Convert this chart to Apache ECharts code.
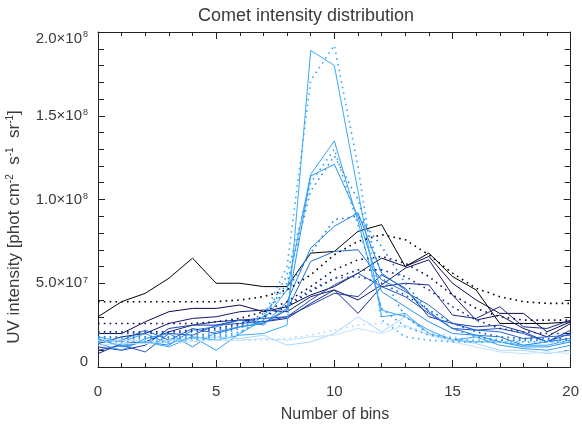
<!DOCTYPE html>
<html><head><meta charset="utf-8">
<script src="https://cdn.jsdelivr.net/npm/echarts@6/dist/echarts.min.js"></script>
<style>html,body{margin:0;padding:0;background:#fff}#c{width:582px;height:427px}</style>
</head><body><div id="c"></div>
<script>
// x positions (bins)
const xBins = [0,1,2,3,4,5,6,7,8,9,10,11,12,13,14,15,16,17,18,19,20];
// y values in units of 1e7 phot cm^-2 s^-1 sr^-1
const solid1  = [3.0,3.9,4.4,5.3,6.5,5.0,5.0,4.8,4.8,6.8,6.9,8.1,8.5,6.0,6.8,5.4,4.6,2.6,2.6,2.6,2.7];
const solid2  = [2.0,2.0,2.7,3.3,3.5,3.5,3.7,3.3,3.6,4.3,4.8,5.6,6.5,6.0,6.6,5.0,4.0,3.2,3.2,2.1,2.7];
const solid3  = [1.4,1.8,2.0,2.6,2.9,3.0,3.3,3.4,3.3,4.2,4.6,4.0,4.9,5.9,6.4,4.3,2.8,3.1,2.3,1.8,2.6];
const solid4  = [0.8,1.4,1.5,2.1,2.5,2.7,2.8,2.7,2.9,3.8,4.6,3.2,4.8,5.0,4.9,3.1,2.9,3.6,2.4,2.3,2.8];
const solid5  = [1.2,1.0,1.3,2.3,2.5,2.5,2.8,2.9,3.0,3.7,4.4,4.2,5.5,4.7,3.0,2.6,2.4,2.5,2.1,1.5,2.2];
const solid6  = [1.0,1.3,0.9,2.0,1.9,2.5,2.6,2.7,3.0,4.0,4.9,5.6,4.8,4.2,3.2,2.3,2.2,2.3,2.0,1.5,2.0];
const solid7  = [1.5,1.6,2.2,1.6,2.3,2.0,2.4,2.6,3.4,6.3,6.9,7.0,5.2,4.5,3.7,2.6,2.2,2.1,1.7,1.8,1.9];
const solid8  = [1.7,1.2,1.5,1.3,2.2,2.4,2.8,2.5,3.9,7.1,8.4,9.2,5.6,4.6,3.3,2.3,1.9,1.8,1.3,1.5,1.7];
const solid9  = [1.4,1.0,1.7,2.0,1.2,2.1,2.4,2.6,3.5,11.4,12.1,9.0,4.5,3.6,2.7,2.0,1.9,1.5,1.2,1.2,1.5];
const solid10 = [1.8,1.5,2.0,1.4,1.8,1.0,2.0,2.8,4.6,11.5,13.5,8.7,3.4,3.0,2.2,1.6,1.8,1.3,1.1,1.0,1.3];
const solid11 = [1.6,1.3,1.5,1.2,1.8,1.6,1.9,2.0,2.5,18.9,18.0,10.5,3.0,3.2,2.0,1.6,1.5,1.5,1.3,1.3,1.6];
const solid12 = [1.5,1.6,1.5,1.6,1.7,1.8,1.7,1.9,1.3,1.5,2.0,3.0,2.1,3.0,2.0,1.6,1.4,1.0,1.0,0.8,1.0];
const solid13 = [1.3,1.4,1.4,1.5,1.5,1.6,1.6,1.7,1.6,1.8,1.9,2.3,2.0,2.5,1.9,1.5,1.2,0.9,0.8,0.9,0.8];
const dotted1 = [3.9,3.9,3.9,3.9,3.9,3.9,4.0,4.2,4.6,5.5,6.7,7.5,7.9,7.6,6.7,5.6,4.7,4.2,3.9,3.8,3.8];
const dotted2 = [2.6,2.6,2.6,2.6,2.6,2.7,2.9,3.3,3.9,4.8,5.8,6.4,6.6,6.2,5.4,4.3,3.5,3.0,2.8,2.8,2.8];
const dotted3 = [2.1,2.1,2.1,2.1,2.2,2.3,2.6,3.0,3.6,4.5,5.3,5.8,5.8,5.4,4.6,3.6,2.8,2.3,2.1,2.0,2.0];
const dotted4 = [2.0,2.0,2.0,2.0,2.1,2.2,2.5,3.0,3.7,4.6,5.3,5.4,5.0,4.3,3.4,2.6,2.1,1.8,1.7,1.7,1.7];
const dotted5 = [1.8,1.8,1.8,1.8,1.9,2.0,2.4,3.2,4.6,6.8,8.8,9.0,7.2,5.0,3.3,2.3,1.8,1.6,1.6,1.6,1.6];
const dotted6 = [1.7,1.7,1.7,1.7,1.8,1.9,2.3,3.0,5.0,10.5,12.6,10.0,5.5,3.0,2.0,1.7,1.6,1.6,1.6,1.6,1.6];
const dotted7 = [1.6,1.6,1.6,1.6,1.7,1.8,2.1,2.8,5.5,11.0,13.0,8.5,3.5,2.4,1.9,1.7,1.6,1.6,1.6,1.6,1.6];
const dotted8 = [1.5,1.5,1.5,1.5,1.6,1.7,2.0,3.0,6.0,17.1,19.2,12.0,2.8,1.8,1.6,1.5,1.5,1.5,1.5,1.5,1.5];
const dotted9 = [1.6,1.6,1.6,1.6,1.6,1.6,1.6,1.6,1.7,1.9,2.2,2.5,2.6,2.4,2.1,1.8,1.6,1.5,1.5,1.5,1.5];
// tick labels
const xTickLabels = ['0','5','10','15','20'];
const yTickMantissa = ['0','5.0','1.0','1.5','2.0'];
const yTickExponent = ['','7','8','8','8'];

const solidSets = [
  [solid1,'#000000'],[solid2,'#0c0c48'],[solid3,'#15196e'],[solid4,'#1a2a8c'],
  [solid5,'#1c3ca6'],[solid6,'#1f52bf'],[solid7,'#2068d4'],[solid8,'#2280e4'],
  [solid9,'#2a94f0'],[solid10,'#34a4f8'],[solid11,'#3aaaff'],[solid12,'#a8d6fc'],[solid13,'#c4e4ff']
];
const dottedSets = [
  [dotted1,'#000000'],[dotted2,'#0c0c48'],[dotted3,'#1a2a8c'],[dotted4,'#1f52bf'],
  [dotted5,'#2280e4'],[dotted6,'#2a94f0'],[dotted7,'#34a4f8'],[dotted8,'#3aaaff'],[dotted9,'#a8d6fc']
];
const series = [];
solidSets.forEach(([arr,c]) => series.push({
  type:'line', data: xBins.map((x,i)=>[x,arr[i]]), showSymbol:false, silent:true,
  lineStyle:{color:c,width:1}, z:2
}));
dottedSets.forEach(([arr,c]) => series.push({
  type:'line', data: xBins.map((x,i)=>[x,arr[i]]), showSymbol:false, silent:true,
  lineStyle:{color:c,width:1.6,type:[1.6,4.2]}, z:2
}));

const axisCol = '#222';
const txtCol = '#3a3a3a';
const font = 'Liberation Sans';
function xAx(pos, labels){
  return {type:'value', min:0, max:20, interval:5, position:pos,
    axisLine:{show:true,onZero:false,lineStyle:{color:axisCol,width:1}},
    axisTick:{show:true,inside:true,length:7,lineStyle:{color:axisCol}},
    minorTick:{show:true,splitNumber:5,length:4,lineStyle:{color:axisCol}},
    splitLine:{show:false}, minorSplitLine:{show:false},
    axisLabel:{show:labels,margin:17,fontSize:15,color:txtCol,fontFamily:font,
      formatter:(v)=>xTickLabels[Math.round(v/5)]}
  };
}
function yAx(pos, labels){
  return {type:'value', min:0, max:20, interval:5, position:pos,
    axisLine:{show:true,onZero:false,lineStyle:{color:axisCol,width:1}},
    axisTick:{show:true,inside:true,length:7,lineStyle:{color:axisCol}},
    minorTick:{show:true,splitNumber:5,length:6,lineStyle:{color:axisCol}},
    splitLine:{show:false}, minorSplitLine:{show:false},
    axisLabel:{show:labels,margin:10,color:txtCol,fontFamily:font,
      formatter:(v)=>{
        const i = Math.round(v/5);
        if (i===0) return '{z|0}';
        if (i===4) return '{mt|'+yTickMantissa[i]+'×10}{et|'+yTickExponent[i]+'}';
        return '{m|'+yTickMantissa[i]+'×10}{e|'+yTickExponent[i]+'}';
      },
      rich:{
        z:{fontSize:15,color:txtCol,fontFamily:font,padding:[0,0,10,0]},
        m:{fontSize:15,color:txtCol,fontFamily:font,verticalAlign:'bottom'},
        e:{fontSize:9,color:txtCol,fontFamily:font,verticalAlign:'top',padding:[0,0,0,1]},
        mt:{fontSize:15,color:txtCol,fontFamily:font,verticalAlign:'bottom',padding:[14,0,0,0]},
        et:{fontSize:9,color:txtCol,fontFamily:font,verticalAlign:'top',padding:[13,0,0,1]}
      }
    }
  };
}

const chart = echarts.init(document.getElementById('c'), null, {renderer:'canvas'});
chart.setOption({
  animation:false,
  backgroundColor:'#fff',
  title:{text:'Comet intensity distribution', left:301, top:2, textAlign:'center',
    textStyle:{fontSize:18,fontWeight:'normal',color:txtCol,fontFamily:font}},
  grid:{left:98,right:10,top:32,bottom:60,containLabel:false},
  xAxis:[xAx('bottom',true), xAx('top',false)],
  yAxis:[yAx('left',true), yAx('right',false)],
  graphic:[
    {type:'text', x:14, y:227, rotation:Math.PI/2,
      style:{text:'UV intensity [phot cm{s|-2}  s{s|-1}  sr{s|-1}]', fill:txtCol,
        font:'17px "Liberation Sans"', align:'center', verticalAlign:'middle',
        rich:{s:{fontSize:10,fill:txtCol,fontFamily:font,verticalAlign:'top'}}}},
    {type:'text', x:335, y:415,
      style:{text:'Number of bins', fill:txtCol, font:'16px "Liberation Sans"', align:'center', verticalAlign:'middle'}}
  ],
  series: series
});
</script></body></html>
